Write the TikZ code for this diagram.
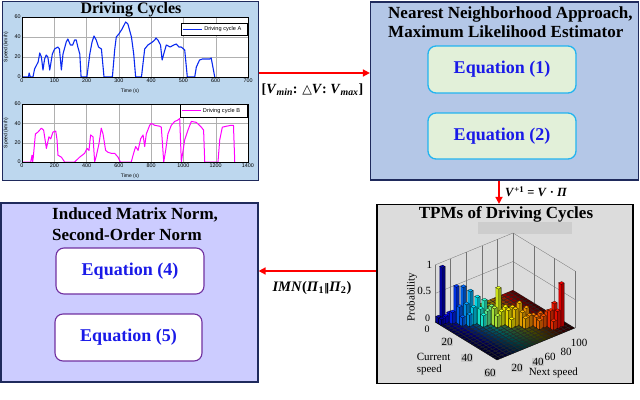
\documentclass[tikz,border=0pt]{standalone}
\usepackage{fontspec}
\setmainfont{Liberation Serif}
\setsansfont{Liberation Sans}
\newfontfamily\dejavu{DejaVu Sans}
\usetikzlibrary{arrows.meta}
\definecolor{dcfill}{HTML}{BDD7EE}
\definecolor{nnfill}{HTML}{B4C7E7}
\definecolor{navy}{HTML}{1F2A5C}
\definecolor{eqgreen}{HTML}{E2F0D9}
\definecolor{eqcyan}{HTML}{22B4F0}
\definecolor{imnfill}{HTML}{CCCCFF}
\definecolor{eqpurple}{HTML}{7030A0}
\definecolor{tpmfill}{HTML}{DCDCDC}
\definecolor{tpmbarc}{HTML}{CDCDCD}
\definecolor{tickbox}{HTML}{C8C8C8}
\definecolor{eqblue}{HTML}{1A1AE8}
\definecolor{arrred}{HTML}{FF0000}
\definecolor{plotblue}{HTML}{0A2AF0}
\definecolor{plotmag}{HTML}{FF00FF}
\definecolor{gridc}{HTML}{B0B0B0}
\newcommand\setjet[1]{%
  \pgfmathsetmacro\jetR{max(0,min(1,1.5-abs(4*(#1)-3)))}%
  \pgfmathsetmacro\jetG{max(0,min(1,1.5-abs(4*(#1)-2)))}%
  \pgfmathsetmacro\jetB{max(0,min(1,1.5-abs(4*(#1)-1)))}%
  \definecolor{jetc}{rgb}{\jetR,\jetG,\jetB}}
\newcommand\mybar[4]{%
  \setjet{#4}%
  \pgfmathsetmacro\bxA{#1+0.1}\pgfmathsetmacro\bxB{#1+0.9}%
  \pgfmathsetmacro\byA{#2+0.1}\pgfmathsetmacro\byB{#2+0.9}%
  \filldraw[barline, fill=jetc!88!black] (\bxA,\byA,0) -- (\bxB,\byA,0) -- (\bxB,\byA,#3) -- (\bxA,\byA,#3) -- cycle;
  \filldraw[barline, fill=jetc!65!black] (\bxB,\byA,0) -- (\bxB,\byB,0) -- (\bxB,\byB,#3) -- (\bxB,\byA,#3) -- cycle;
  \filldraw[barline, fill=jetc] (\bxA,\byA,#3) -- (\bxB,\byA,#3) -- (\bxB,\byB,#3) -- (\bxA,\byB,#3) -- cycle;}
\begin{document}
\begin{tikzpicture}[x=1pt,y=-1pt,
  ttl/.style={font=\fontsize{17}{19}\selectfont\bfseries, inner sep=0pt},
  eqtext/.style={font=\fontsize{18}{20}\selectfont\bfseries, text=eqblue},
  panelbox/.style={draw, line width=1.2pt, inner sep=0pt},
  eqA/.style={draw=eqcyan, fill=eqgreen, line width=1.3pt, rounded corners=8pt, eqtext, inner sep=0pt},
  eqB/.style={draw=eqpurple, fill=white, line width=1.1pt, rounded corners=8pt, eqtext, inner sep=0pt},
  redarrow/.style={draw=arrred, line width=1.6pt, -{Triangle[length=7pt,width=7pt]}},
  lbl/.style={font=\fontsize{14}{16}\selectfont\bfseries, inner sep=0pt},
  tick/.style={font=\fontsize{5.4}{6}\selectfont\sffamily, inner sep=0.8pt},
  axlab/.style={font=\fontsize{5}{6}\selectfont\sffamily, inner sep=0pt},
  leg/.style={font=\fontsize{5.6}{6}\selectfont\sffamily, inner sep=0pt},
  grd/.style={draw=gridc, line width=0.3pt},
  wallc/.style={draw=black!55, line width=0.3pt},
  barline/.style={draw=black, line width=0.15pt},
  tpmtick/.style={font=\fontsize{11}{12}\selectfont, inner sep=0.6pt},
  tpmbox/.style={tpmtick, fill=tickbox}]
\useasboundingbox (0,0) rectangle (640,399);

% ---------------- panels ----------------
\node[panelbox, draw=navy, fill=dcfill, line width=1pt, minimum width=256pt, minimum height=179pt] (dc) at (130,90.5) {};
\node[panelbox, draw=navy, fill=nnfill, minimum width=268pt, minimum height=178pt] (nn) at (504.5,91) {};
\node[panelbox, draw=black, fill=tpmfill, minimum width=256pt, minimum height=179pt] (tpm) at (505,294) {};
\node[panelbox, draw=navy, fill=imnfill, minimum width=257pt, minimum height=179pt] (imn) at (129.5,292.5) {};

% ---------------- titles ----------------
\node[ttl, anchor=base] (dct) at (131,13.5) {\fontsize{16}{18}\selectfont Driving Cycles};
\node[ttl, anchor=base west] (nnt1) at (388,18.3) {Nearest Neighborhood Approach,};
\node[ttl, anchor=base west] (nnt2) at (388,37.5) {Maximum Likelihood Estimator};
\node[ttl, anchor=base] (tpmt) at (506,218.5) {TPMs of Driving Cycles};
\node[fill=tpmbarc, minimum width=94pt, minimum height=12pt, inner sep=0pt] (tpmbar) at (525,228) {};
\node[ttl, anchor=base west] (imnt1) at (52,219.3) {Induced Matrix Norm,};
\node[ttl, anchor=base west] (imnt2) at (52,240) {Second-Order Norm};

% ---------------- equation boxes ----------------
\node[eqA, minimum width=148pt, minimum height=47pt] (eq1) at (502,69.5) {Equation (1)};
\node[eqA, minimum width=148pt, minimum height=46pt] (eq2) at (502,136) {Equation (2)};
\node[eqB, minimum width=148pt, minimum height=46pt] (eq4) at (130,271) {Equation (4)};
\node[eqB, minimum width=147pt, minimum height=47pt] (eq5) at (128.5,337.5) {Equation (5)};

% ---------------- connectors ----------------
\coordinate (yA) at (0,73);
\coordinate (xD) at (499,0);
\coordinate (yC) at (0,271);
\draw[redarrow] (dc.east |- yA) -- (nn.west |- yA);
\draw[redarrow] (nn.south -| xD) -- (tpm.north -| xD);
\draw[redarrow] (tpm.west |- yC) -- (imn.east |- yC);
\node[lbl] (la) at (312.5,90) {[\textit{V}\textsubscript{\textit{min}}: {\dejavu\fontsize{12.5}{13}\selectfont △}\textit{V}: \textit{V}\textsubscript{\textit{max}}]};
\node[lbl, anchor=west, font=\fontsize{12.5}{14}\selectfont\bfseries] (lb) at (505,192) {\textit{V}\textsuperscript{+1} = \textit{V} · \textit{Π}};
\node[lbl, font=\fontsize{14.5}{16}\selectfont\bfseries] (lc) at (312,288) {\textit{IMN}(\textit{Π}\textsubscript{1}{\dejavu\fontsize{10.5}{11}\selectfont ‖}\textit{Π}\textsubscript{2})};

% ---------------- plot A ----------------
\begin{scope}[shift={(22,77)}, x=0.32286pt, y=1pt]
  \fill[white] (0,0) rectangle (700,60);
  \foreach \t in {100,200,...,600} \draw[grd] (\t,0) -- (\t,60);
  \foreach \v in {20,40} \draw[grd] (0,\v) -- (700,\v);
  \draw[plotblue, line width=1.1pt, line join=round] plot coordinates {
   (0,0) (20,0) (22,4) (26,0) (34,0) (39,8) (50,15) (55,24) (60,20) (65,7) (70,18) (75,22) (80,20) (86,7) (94,23) (101,28) (111,30) (116,28) (122,7) (127,23) (137,35) (142,38) (150,32) (157,32) (163,37) (168,37) (173,30) (179,23) (183,0) (201,0) (210,23) (217,35) (223,41) (230,37) (237,30) (246,28) (254,0) (280,0) (287,27) (292,40) (300,43) (310,48) (321,55) (328,53) (339,40) (346,23) (352,0) (370,0) (380,28) (390,32) (404,35) (411,37) (415,39) (421,37) (429,32) (434,17) (439,23) (447,32) (459,30) (470,32) (478,33) (486,30) (493,30) (504,27) (512,0) (535,0) (540,10) (550,17) (559,18) (581,18) (586,19) (597,0)};
  \draw[black, line width=0.4pt] (0,0) rectangle (700,60);
  \foreach \t in {0,100,...,700} \node[tick, anchor=north] at (\t,-1) {\t};
  \foreach \v in {0,20,40,60} \node[tick, anchor=east] at (-1,\v) {\v};
  \draw[black, line width=0.3pt, fill=white] (493,53.5) rectangle (697,42);
  \draw[plotblue, line width=1pt] (499,48) -- (558,48);
  \node[leg, anchor=west] at (564,48) {Driving cycle A};
\end{scope}
\node[axlab] (ta) at (130,91) {Time (s)};
\node[axlab, rotate=90] (sa) at (6,47) {Speed (km/h)};

% ---------------- plot B ----------------
\begin{scope}[shift={(22,162)}, x=0.16143pt, y=0.96667pt]
  \fill[white] (0,0) rectangle (1400,60);
  \foreach \t in {200,400,...,1200} \draw[grd] (\t,0) -- (\t,60);
  \foreach \v in {20,40} \draw[grd] (0,\v) -- (1400,\v);
  \draw[plotmag, line width=1pt, line join=round] plot coordinates {
   (0,0) (54,0) (62,7) (66,0) (70,5) (83,29) (99,31) (120,35) (134,33) (151,14) (167,26) (178,24) (192,31) (209,32) (217,23) (223,7) (244,5) (264,0) (326,0) (357,5) (388,9) (403,14) (415,12) (425,28) (440,26) (450,0) (460,6) (477,19) (491,35) (502,29) (518,12) (533,10) (553,9) (574,9) (595,5) (609,0) (677,0) (688,7) (704,16) (719,12) (735,24) (750,28) (760,16) (770,29) (791,38) (801,40) (822,38) (853,37) (863,36) (878,0) (890,12) (904,29) (925,38) (946,42) (962,43) (977,45) (987,0) (1008,23) (1028,33) (1049,42) (1080,41) (1111,36) (1125,33) (1132,0) (1214,0) (1225,23) (1241,36) (1266,37) (1297,38) (1310,38) (1318,0)};
  \draw[black, line width=0.4pt] (0,0) rectangle (1400,60);
  \foreach \t in {0,200,...,1400} \node[tick, anchor=north] at (\t,-1) {\t};
  \foreach \v in {0,20,40,60} \node[tick, anchor=east] at (-2,\v) {\v};
  \draw[black, line width=0.3pt, fill=white] (979,59.5) rectangle (1394,46.5);
  \draw[plotmag, line width=1pt] (991,53) -- (1107,53);
  \node[leg, anchor=west] at (1120,53) {Driving cycle B};
\end{scope}
\node[axlab] (tb) at (130,176) {Time (s)};
\node[axlab, rotate=90] (sb) at (6,133) {Speed (km/h)};

% ---------------- 3D bar chart ----------------
\begin{scope}[shift={(435,322)}, x={(3.1pt,-1.9pt)}, y={(3.9pt,1.6pt)}, z={(0pt,57pt)}]
  % walls
  \foreach \b in {0,4,...,20} \draw[wallc] (0,\b,0) -- (0,\b,1);
  \foreach \a in {6.667,13.333,20} \draw[wallc] (\a,20,0) -- (\a,20,1);
  \foreach \z in {0.5,1} \draw[wallc] (0,0,\z) -- (0,20,\z) -- (20,20,\z);
  % floor
  \fill[black!85] (0,0,0) -- (20,0,0) -- (20,20,0) -- (0,20,0) -- cycle;
  \foreach \i in {0,...,19} {
    \foreach \j in {0,...,19} {
      \setjet{(\j+0.5)/20}%
      \pgfmathsetmacro\dk{58-2*\i}%
      \fill[jetc!\dk!black] (\i+0.12,\j+0.12,0) -- (\i+0.88,\j+0.12,0) -- (\i+0.88,\j+0.88,0) -- (\i+0.12,\j+0.88,0) -- cycle;
    }
  }
  % bars: behind diagonal
  \mybar{0}{1}{0.95}{0.05}
  \mybar{1}{2}{0.15}{0.12}
  \mybar{2}{3}{0.62}{0.18}
  \mybar{3}{4}{0.62}{0.23}
  \mybar{4}{5}{0.55}{0.30}
  \mybar{5}{6}{0.45}{0.36}
  \mybar{6}{7}{0.40}{0.42}
  \mybar{7}{8}{0.30}{0.50}
  \mybar{8}{9}{0.62}{0.60}
  \mybar{9}{10}{0.30}{0.63}
  \mybar{10}{11}{0.30}{0.66}
  \mybar{11}{12}{0.38}{0.69}
  \mybar{12}{13}{0.30}{0.72}
  \mybar{13}{14}{0.18}{0.75}
  \mybar{14}{15}{0.22}{0.78}
  \mybar{15}{16}{0.25}{0.81}
  \mybar{16}{17}{0.40}{0.85}
  \mybar{17}{18}{0.75}{0.88}
  % diagonal
  \mybar{0}{0}{0.10}{0.04}
  \mybar{1}{1}{0.12}{0.10}
  \mybar{2}{2}{0.20}{0.16}
  \mybar{3}{3}{0.30}{0.22}
  \mybar{4}{4}{0.35}{0.28}
  \mybar{5}{5}{0.30}{0.34}
  \mybar{6}{6}{0.28}{0.40}
  \mybar{7}{7}{0.25}{0.47}
  \mybar{8}{8}{0.30}{0.56}
  \mybar{9}{9}{0.25}{0.61}
  \mybar{10}{10}{0.28}{0.64}
  \mybar{11}{11}{0.30}{0.67}
  \mybar{12}{12}{0.25}{0.70}
  \mybar{13}{13}{0.20}{0.73}
  \mybar{14}{14}{0.18}{0.76}
  \mybar{15}{15}{0.20}{0.79}
  \mybar{16}{16}{0.30}{0.83}
  \mybar{17}{17}{0.30}{0.86}
  % in front of diagonal
  \mybar{1}{0}{0.10}{0.04}
  \mybar{4}{3}{0.15}{0.22}
  \mybar{5}{4}{0.20}{0.28}
  \mybar{7}{6}{0.20}{0.40}
  \mybar{9}{8}{0.20}{0.56}
  \mybar{11}{10}{0.15}{0.64}
  \mybar{13}{12}{0.18}{0.70}
  \mybar{15}{14}{0.15}{0.76}
  \mybar{17}{16}{0.15}{0.83}
  % front edges
  \draw[black, line width=0.3pt] (0,0,0) -- (20,0,0) -- (20,20,0);
\end{scope}
\node[tpmtick, anchor=east] (z1) at (433,265) {1};
\node[tpmtick, anchor=east] (z05) at (432,291) {0.5};
\node[tpmtick, anchor=east, font=\fontsize{10}{11}\selectfont] (z0) at (431,318) {0};
\node[tpmtick, font=\fontsize{10}{11}\selectfont] (c0) at (427,329) {0};
\node[tpmbox] (c20) at (447,342) {20};
\node[tpmbox] (c40) at (467,358) {40};
\node[tpmbox] (c60) at (490,373) {60};
\node[tpmbox] (n20) at (517,368) {20};
\node[tpmbox] (n40) at (538,362) {40};
\node[tpmtick] (n60) at (550,357) {60};
\node[tpmtick] (n80) at (566,352) {80};
\node[tpmtick] (n100) at (579,343) {100};
\node[tpmtick, anchor=west] (nsp) at (528,373) {Next speed};
\node[tpmtick, align=left, anchor=west, font=\fontsize{11}{12.5}\selectfont] (csp) at (416,364) {Current\\speed};
\node[tpmtick, rotate=90] (prob) at (412,297) {Probability};
\end{tikzpicture}
\end{document}
